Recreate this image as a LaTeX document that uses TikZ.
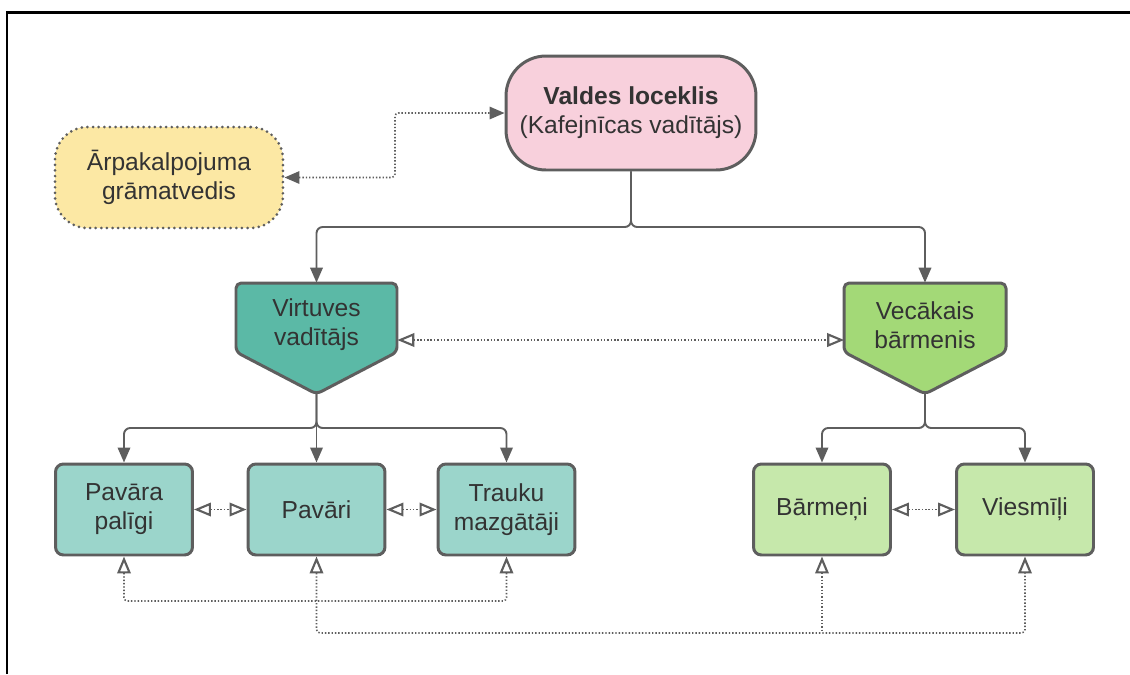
\documentclass[tikz,border=0pt]{standalone}
\usepackage{fontspec}
\setmainfont{Liberation Sans}
\usetikzlibrary{arrows.meta}

\definecolor{edge}{HTML}{5E5E5E}
\definecolor{ink}{HTML}{333333}
\definecolor{boardfill}{HTML}{F8D0DC}
\definecolor{outfill}{HTML}{FCE8A4}
\definecolor{kitchen}{HTML}{5BB9A6}
\definecolor{kitchenlight}{HTML}{9BD5CB}
\definecolor{bar}{HTML}{A3D977}
\definecolor{barlight}{HTML}{C6E8AB}

\begin{document}
\begin{tikzpicture}[x=0.02cm,y=-0.02cm,font=\fontsize{14}{16.5}\selectfont,
    every node/.style={text=ink,align=center,inner sep=0pt},
    fulltip/.tip={Triangle[length=0.3cm,width=0.25cm]},
    opentip/.tip={Triangle[open,fill=white,length=0.34cm,width=0.27cm,line width=1.2pt]},
    tree/.style={draw=edge,line width=1.1pt,rounded corners=3.5pt,-fulltip},
    link/.style={draw=edge,line width=0.9pt,dash pattern=on 0.8pt off 1.1pt,rounded corners=2pt,opentip-opentip},
    staff/.style={draw=edge,line width=1.7pt,rounded corners=4.5pt,minimum width=2.74cm,minimum height=1.82cm},
    head/.style={draw=edge,line width=1.7pt,rounded corners=3pt,line join=round},
    headtext/.style={minimum width=3.22cm,minimum height=1.68cm}]
  \useasboundingbox (0,0) rectangle (1130,674);
  \draw[line width=1.7pt] (7,674) -- (7,12) -- (1130,12);

  % top level
  \node[draw=edge,fill=boardfill,line width=1.7pt,rounded corners=0.8cm,
        minimum width=5cm,minimum height=2.28cm] (vl) at (631,113)
        {\textbf{Valdes loceklis}\\(Kafejnīcas vadītājs)};
  \node[draw=edge,fill=outfill,line width=1.7pt,dash pattern=on 0pt off 3.2pt,line cap=round,
        rounded corners=0.65cm,minimum width=4.56cm,minimum height=2.02cm] (ag) at (169,177.5)
        {Ārpakalpojuma\\grāmatvedis};

  % heads
  \draw[head,fill=kitchen] (236,283) -- (397,283) -- (397,352) -- (316.5,394) -- (236,352) -- cycle;
  \draw[head,fill=bar] (844,283) -- (1006,283) -- (1006,352) -- (925,394) -- (844,352) -- cycle;
  \node[headtext] (vk) at (316.5,325) {Virtuves\\vadītājs};
  \node[headtext] (vb) at (925,325) {Vecākais\\bārmenis};
  \coordinate (vktip) at (316.5,394);
  \coordinate (vbtip) at (925,394);

  % staff
  \node[staff,fill=kitchenlight] (pp) at (124,509.5) {Pavāra\\palīgi};
  \node[staff,fill=kitchenlight] (pv) at (316.5,509.5) {Pavāri};
  \node[staff,fill=kitchenlight] (tm) at (506.5,509.5) {Trauku\\mazgātāji};
  \node[staff,fill=barlight] (bm) at (822,509.5) {Bārmeņi};
  \node[staff,fill=barlight] (vi) at (1025,509.5) {Viesmīļi};

  % hierarchy
  \coordinate (topfork) at (631,227);
  \coordinate (kfork) at (316.5,428);
  \coordinate (bfork) at (925,428);
  \draw[tree] (vl.south) -- (topfork) -| (vk.north);
  \draw[tree] (vl.south) -- (topfork) -| (vb.north);
  \draw[tree] (vktip) -- (kfork) -| (pp.north);
  \draw[tree] (vktip) -- (pv.north);
  \draw[tree] (vktip) -- (kfork) -| (tm.north);
  \draw[tree] (vbtip) -- (bfork) -| (bm.north);
  \draw[tree] (vbtip) -- (bfork) -| (vi.north);

  % dotted links
  \coordinate (agbend) at (395,0);
  \draw[link,fulltip-fulltip] (ag.east) -- (ag.east -| agbend) |- (vl.west);
  \draw[link] ([yshift=-0.3cm]vk.east) -- ([yshift=-0.3cm]vb.west);
  \draw[link] (pp) -- (pv);
  \draw[link] (pv) -- (tm);
  \draw[link] (bm) -- (vi);
  \coordinate (lowa) at (0,601);
  \coordinate (lowb) at (0,633);
  \draw[link] (pp.south) -- (pp.south |- lowa) -| (tm.south);
  \draw[link] (pv.south) -- (pv.south |- lowb) -| (vi.south);
  \draw[link,opentip-] (bm.south) -- (bm.south |- lowb);
\end{tikzpicture}
\end{document}
